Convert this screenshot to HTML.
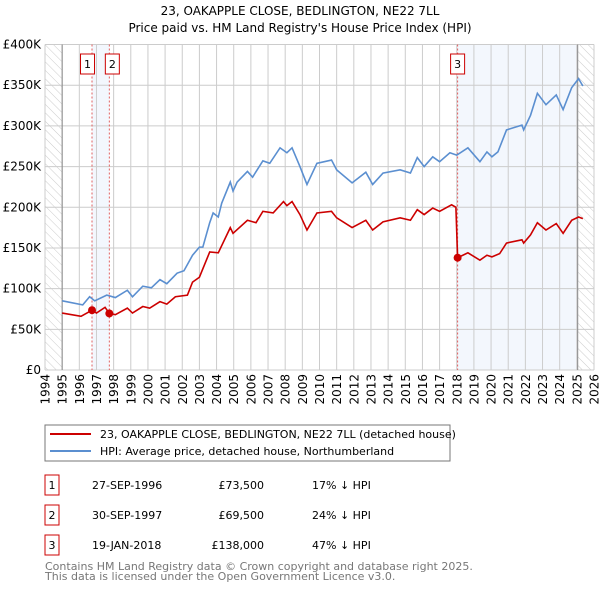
<!DOCTYPE html>
<html><head><meta charset="utf-8"><style>
body{margin:0;background:#fff;width:600px;height:590px;overflow:hidden;font-family:"DejaVu Sans","Liberation Sans",sans-serif}
</style></head><body>
<svg id="c" width="600" height="590" xmlns="http://www.w3.org/2000/svg" style="font-family:'DejaVu Sans','Liberation Sans',sans-serif">
<defs><pattern id="hatch" width="6" height="6" patternUnits="userSpaceOnUse" patternTransform="rotate(-45)"><line x1="0" y1="0" x2="0" y2="6" stroke="#ccc" stroke-width="1"/></pattern></defs>
<text x="300" y="15" text-anchor="middle" font-size="12">23, OAKAPPLE CLOSE, BEDLINGTON, NE22 7LL</text>
<text x="300" y="32" text-anchor="middle" font-size="12">Price paid vs. HM Land Registry's House Price Index (HPI)</text>
<g id="plot"></g>
<g>
<rect x="45" y="425" width="405" height="36" fill="#fff" stroke="#777"/>
<line x1="50" y1="434" x2="91" y2="434" stroke="#cc0000" stroke-width="2"/>
<text x="100" y="438" font-size="11">23, OAKAPPLE CLOSE, BEDLINGTON, NE22 7LL (detached house)</text>
<line x1="50" y1="451" x2="91" y2="451" stroke="#5b8fd0" stroke-width="2"/>
<text x="100" y="455" font-size="11">HPI: Average price, detached house, Northumberland</text>
</g>
<g id="table" font-size="11"></g>
<text x="45" y="570" font-size="11" fill="#777">Contains HM Land Registry data © Crown copyright and database right 2025.</text>
<text x="45" y="580" font-size="11" fill="#777">This data is licensed under the Open Government Licence v3.0.</text>
</svg>
<script>
const hpiYears=[1995,1996.2,1996.6,1996.9,1997.6,1998.1,1998.8,1999.1,1999.7,2000.2,2000.7,2001.1,2001.7,2002.1,2002.6,2003,2003.2,2003.6,2003.8,2004.1,2004.3,2004.8,2004.96,2005.2,2005.8,2006.1,2006.7,2007.1,2007.7,2008.1,2008.4,2008.86,2009.27,2009.85,2010.7,2011,2011.9,2012.7,2013.1,2013.7,2014.7,2015.3,2015.7,2016.1,2016.6,2017,2017.6,2018,2018.65,2019.35,2019.76,2020.05,2020.4,2020.9,2021.8,2021.9,2022.3,2022.7,2023.2,2023.8,2024.2,2024.7,2025.1,2025.35];
const hpiValues=[85,80,90,85,92,89,98,90,103,101,111,106,119,122,141,151,151,181,193,188,205,231,220,231,244,237,257,254,273,267,273,250,228,254,258,246,230,243,228,242,246,242,261,250,262,256,267,264,273,256,268,262,268,295,301,295,313,340,326,338,320,347,358,349];
const redYears=[1995,1996.1,1996.74,1997,1997.5,1997.75,1998.1,1998.8,1999.1,1999.7,2000.1,2000.7,2001.1,2001.6,2002.3,2002.6,2003,2003.6,2004.1,2004.8,2004.96,2005.8,2006.3,2006.7,2007.3,2007.9,2008.1,2008.4,2008.86,2009.27,2009.85,2010.7,2011,2011.9,2012.7,2013.1,2013.7,2014.7,2015.3,2015.7,2016.1,2016.6,2017,2017.7,2017.95,2018.05,2018.65,2019.35,2019.76,2020.05,2020.5,2020.9,2021.8,2021.9,2022.3,2022.7,2023.2,2023.8,2024.2,2024.7,2025.1,2025.35];
const redValues=[70,66,73.5,70,77,69.5,68,76,70,78,76,84,81,90,92,108,114,145,144,175,168,184,181,195,193,207,202,207,191,172,193,195,187,175,184,172,182,187,184,197,191,199,195,203,200,138,144,135,141,139,143,156,160,156,166,181,172,180,168,184,188,186];
const saleYears=[1996.74,1997.75,2018.05];
const salePrices=[73.5,69.5,138];
const saleLabels=["1","2","3"];
const saleDates=["27-SEP-1996","30-SEP-1997","19-JAN-2018"];
const salePriceText=["£73,500","£69,500","£138,000"];
const saleHpiText=["17% ↓ HPI","24% ↓ HPI","47% ↓ HPI"];
const yTicks=[0,50,100,150,200,250,300,350,400];
const yTickLabels=["£0","£50K","£100K","£150K","£200K","£250K","£300K","£350K","£400K"];
const xTicks=[1994,1995,1996,1997,1998,1999,2000,2001,2002,2003,2004,2005,2006,2007,2008,2009,2010,2011,2012,2013,2014,2015,2016,2017,2018,2019,2020,2021,2022,2023,2024,2025,2026];

const NS="http://www.w3.org/2000/svg";
const L=45,R=594,T=44.5,B=370;
const x=y=>L+(y-1994)*(R-L)/32;
const yv=v=>B-v*(B-T)/400;
const g=document.getElementById('plot');
function mk(tag,a,p){const e=document.createElementNS(NS,tag);for(const k in a)e.setAttribute(k,a[k]);(p||g).appendChild(e);return e;}

let e;
e=mk('rect',{x:L,y:T,width:x(1995)-L,height:B-T,fill:'url(#hatch)'});


e=mk('rect',{x:x(2025.05),y:T,width:R-x(2025.05),height:B-T,fill:'url(#hatch)'});


e=mk('rect',{x:x(saleYears[0]),y:T,width:x(saleYears[1])-x(saleYears[0]),height:B-T,fill:'#eef3fc',opacity:0.7});


e=mk('rect',{x:x(saleYears[2]),y:T,width:x(2025.05)-x(saleYears[2]),height:B-T,fill:'#eef3fc',opacity:0.7});



xTicks.forEach(t=>{
  e=mk('line',{x1:x(t),x2:x(t),y1:T,y2:B,stroke:'#ccc','stroke-width':1});
  
  
  e=mk('text',{x:0,y:0,'text-anchor':'end','font-size':12,transform:'translate('+(x(t)+4.5)+',374) rotate(-90)'});
  e.textContent=t;
  
  
});
yTicks.forEach((t,i)=>{
  e=mk('line',{x1:L,x2:R,y1:yv(t),y2:yv(t),stroke:'#ccc','stroke-width':1});
  
  
  e=mk('text',{x:41,y:yv(t)+4,'text-anchor':'end','font-size':12});
  e.textContent=yTickLabels[i];
  
  
});
e=mk('line',{x1:x(1995),x2:x(1995),y1:T,y2:B,stroke:'#888'});


e=mk('line',{x1:x(2025.05),x2:x(2025.05),y1:T,y2:B,stroke:'#888'});



saleYears.forEach((s,i)=>{
  e=mk('line',{x1:x(s),x2:x(s),y1:T,y2:B,stroke:'#e06060','stroke-dasharray':'2,2','stroke-width':1});
  
  
});

e=mk('polyline',{points:hpiYears.map((t,i)=>x(t)+','+yv(hpiValues[i])).join(' '),fill:'none',stroke:'#5b8fd0','stroke-width':1.6});


e=mk('polyline',{points:redYears.map((t,i)=>x(t)+','+yv(redValues[i])).join(' '),fill:'none',stroke:'#cc0000','stroke-width':1.6});



saleYears.forEach((s,i)=>{
  e=mk('circle',{cx:x(s),cy:yv(salePrices[i]),r:4,fill:'#cc0000'});
  
  
  const gx=i==0?x(s)-11.5:i==1?x(s)-4:x(s)-7;
  e=mk('rect',{x:gx,y:54,width:14,height:20,fill:'#fff',stroke:'#cc0000'});
  
  
  e=mk('text',{x:gx+7,y:68,'text-anchor':'middle','font-size':11});
  e.textContent=saleLabels[i];
  
  
});

const tb=document.getElementById('table');
saleLabels.forEach((s,i)=>{
  const y0=475+i*30;
  e=mk('rect',{x:45,y:y0,width:14,height:20,fill:'#fff',stroke:'#cc0000'},tb);
  
  
  e=mk('text',{x:52,y:y0+14,'text-anchor':'middle'},tb);
  e.textContent=s;
  
  
  e=mk('text',{x:92,y:y0+14},tb);
  e.textContent=saleDates[i];
  
  
  e=mk('text',{x:264,y:y0+14,'text-anchor':'end'},tb);
  e.textContent=salePriceText[i];
  
  
  e=mk('text',{x:312,y:y0+14},tb);
  e.textContent=saleHpiText[i];
  
  
});
</script>
</body></html>
